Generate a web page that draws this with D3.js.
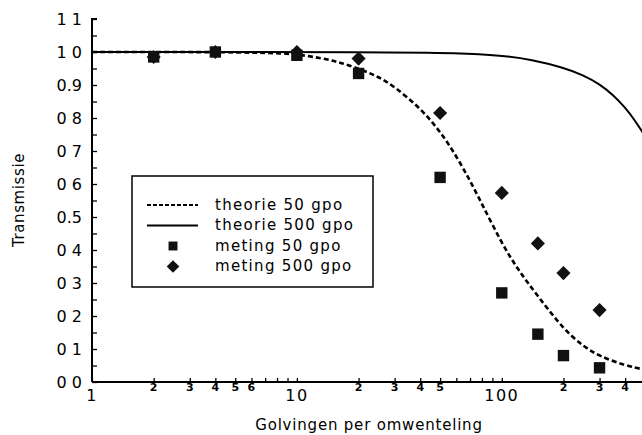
<!DOCTYPE html>
<html>
<head>
<meta charset="utf-8">
<script src="https://cdn.jsdelivr.net/npm/d3@7"></script>
<style>
  body { margin: 0; background: #fff; }
  svg { display: block; font-family: "DejaVu Sans", sans-serif; }
</style>
</head>
<body>
<div id="chart"></div>
<script>
// Datos
const xMeting = [2, 4, 10, 20, 50, 100, 150, 200, 300];
const meting50 = [0.985, 1.0, 0.99, 0.935, 0.62, 0.27, 0.145, 0.08, 0.043];
const meting500 = [0.985, 1.0, 1.0, 0.98, 0.815, 0.573, 0.42, 0.33, 0.218];

const xTheorie50 = [1, 3, 5, 8, 10, 13, 16, 20, 25, 30, 40, 50, 60, 70, 80, 100, 120, 150, 200, 250, 300, 400, 500];
const theorie50 = [1, 1, 0.999, 0.997, 0.993, 0.982, 0.97, 0.95, 0.925, 0.895, 0.83, 0.76, 0.685, 0.61, 0.54, 0.42, 0.34, 0.26, 0.16, 0.108, 0.078, 0.05, 0.037];

const xTheorie500 = [1, 30, 60, 100, 140, 200, 250, 300, 350, 400, 450, 500];
const theorie500 = [1, 1, 0.997, 0.99, 0.977, 0.953, 0.93, 0.903, 0.87, 0.832, 0.79, 0.745];

const yTickValues = [0, 0.1, 0.2, 0.3, 0.4, 0.5, 0.6, 0.7, 0.8, 0.9, 1.0, 1.1];
const yTickLabels = ['0 0', '0 1', '0 2', '0 3', '0 4', '0.5', '0 6', '0 7', '0 8', '0.9', '1 0', '1 1'];
const xMajorTicks = [1, 10, 100];
const xMinorLabels = [2, 3, 4, 5, 6, 20, 30, 40, 50, 200, 300, 400];

const legendItems = ['theorie 50 gpo', 'theorie 500 gpo', 'meting 50 gpo', 'meting 500 gpo'];

let width = 642, height = 435;

let svg = d3.select('#chart')
    .append('svg')
    .attr('width', width)
    .attr('height', height);

//Escalas
let x = d3.scaleLog()
    .domain([1, 500])
    .range([92, 645]);

let y = d3.scaleLinear()
    .domain([0, 1.1])
    .range([382, 19]);

//Eje X
let xTicks = [];
for (let d = 1; d <= 500; d *= 10) {
    for (let k = 1; k < 10; k++) {
        if (d * k <= 500) xTicks.push(d * k);
    }
}

let xAxis = svg.append('g')
    .attr('transform', 'translate(0,' + y(0) + ')')
    .call(d3.axisTop(x).tickValues(xTicks).tickSize(4).tickFormat(''));
xAxis.select('.domain').attr('stroke-width', 2).attr('d', 'M' + x(1) + ',0H' + 645);
xAxis.selectAll('.tick line').attr('stroke-width', 1.3);

svg.append('g')
    .selectAll('text')
    .data(xMajorTicks)
    .enter()
    .append('text')
    .attr('x', d => x(d))
    .attr('y', 401)
    .attr('text-anchor', 'middle')
    .attr('font-size', 16)
    .attr('letter-spacing', 1.5)
    .text(d => d);

svg.append('g')
    .selectAll('text')
    .data(xMinorLabels)
    .enter()
    .append('text')
    .attr('x', d => x(d))
    .attr('y', 391)
    .attr('text-anchor', 'middle')
    .attr('font-size', 11)
    .attr('font-weight', 'bold')
    .text(d => String(d)[0]);

//Eje Y
let yMinor = d3.range(0, 23).map(i => i * 0.05);
let yAxis = svg.append('g')
    .attr('transform', 'translate(' + x(1) + ',0)')
    .call(d3.axisRight(y).tickValues(yMinor).tickSize(5).tickFormat(''));
yAxis.select('.domain').attr('stroke-width', 2).attr('d', 'M5,' + y(1.1) + 'H0V' + y(0));
yAxis.selectAll('.tick line').attr('stroke-width', 1.3);

svg.append('g')
    .selectAll('text')
    .data(yTickValues)
    .enter()
    .append('text')
    .attr('x', 82)
    .attr('y', d => y(d))
    .attr('dy', '0.36em')
    .attr('text-anchor', 'end')
    .attr('font-size', 16)
    .text((d, i) => yTickLabels[i]);

//Titulos
svg.append('text')
    .attr('transform', 'translate(24,' + 200 + ') rotate(-90)')
    .attr('text-anchor', 'middle')
    .attr('font-size', 15)
    .attr('letter-spacing', 0.6)
    .text('Transmissie');

svg.append('text')
    .attr('x', 369)
    .attr('y', 430)
    .attr('text-anchor', 'middle')
    .attr('font-size', 15)
    .attr('letter-spacing', 0.8)
    .text('Golvingen per omwenteling');

//Lineas teoricas
let line = d3.line()
    .x(d => x(d[0]))
    .y(d => y(d[1]))
    .curve(d3.curveBasis);

svg.append('path')
    .datum(xTheorie500.map((d, i) => [d, theorie500[i]]))
    .attr('fill', 'none')
    .attr('stroke', '#000')
    .attr('stroke-width', 2)
    .attr('d', line);

svg.append('path')
    .datum(xTheorie50.map((d, i) => [d, theorie50[i]]))
    .attr('fill', 'none')
    .attr('stroke', '#000')
    .attr('stroke-width', 2.6)
    .attr('stroke-dasharray', '5,3')
    .attr('d', line);

//Medidas
let square = d3.symbol().type(d3.symbolSquare).size(130);
let diamond = d3.symbol().type(d3.symbolSquare).size(100);

svg.append('g')
    .selectAll('path')
    .data(xMeting.map((d, i) => [d, meting50[i]]))
    .enter()
    .append('path')
    .attr('transform', d => 'translate(' + x(d[0]) + ',' + y(d[1]) + ')')
    .attr('fill', '#111')
    .attr('d', square);

svg.append('g')
    .selectAll('path')
    .data(xMeting.map((d, i) => [d, meting500[i]]))
    .enter()
    .append('path')
    .attr('transform', d => 'translate(' + x(d[0]) + ',' + y(d[1]) + ') rotate(45)')
    .attr('fill', '#111')
    .attr('d', diamond);

//Leyenda
let legend = svg.append('g').attr('transform', 'translate(132,176)');
legend.append('rect')
    .attr('width', 241)
    .attr('height', 111)
    .attr('fill', '#fff')
    .attr('stroke', '#000')
    .attr('stroke-width', 1.5);

let rows = legend.selectAll('g')
    .data(legendItems)
    .enter()
    .append('g')
    .attr('transform', (d, i) => 'translate(0,' + (29 + i * 20.5) + ')');

rows.append('text')
    .attr('x', 83)
    .attr('dy', '0.33em')
    .attr('font-size', 15)
    .attr('letter-spacing', 1.3)
    .text(d => d);

rows.filter((d, i) => i < 2)
    .append('line')
    .attr('x1', 15)
    .attr('x2', 66)
    .attr('stroke', '#000')
    .attr('stroke-width', (d, i) => i == 0 ? 2 : 1.8)
    .attr('stroke-dasharray', (d, i) => i == 0 ? '4,2' : null);

rows.filter((d, i) => i == 2)
    .append('path')
    .attr('transform', 'translate(41,0)')
    .attr('fill', '#111')
    .attr('d', d3.symbol().type(d3.symbolSquare).size(80));

rows.filter((d, i) => i == 3)
    .append('path')
    .attr('transform', 'translate(41,0) rotate(45)')
    .attr('fill', '#111')
    .attr('d', d3.symbol().type(d3.symbolSquare).size(80));
</script>
</body>
</html>
